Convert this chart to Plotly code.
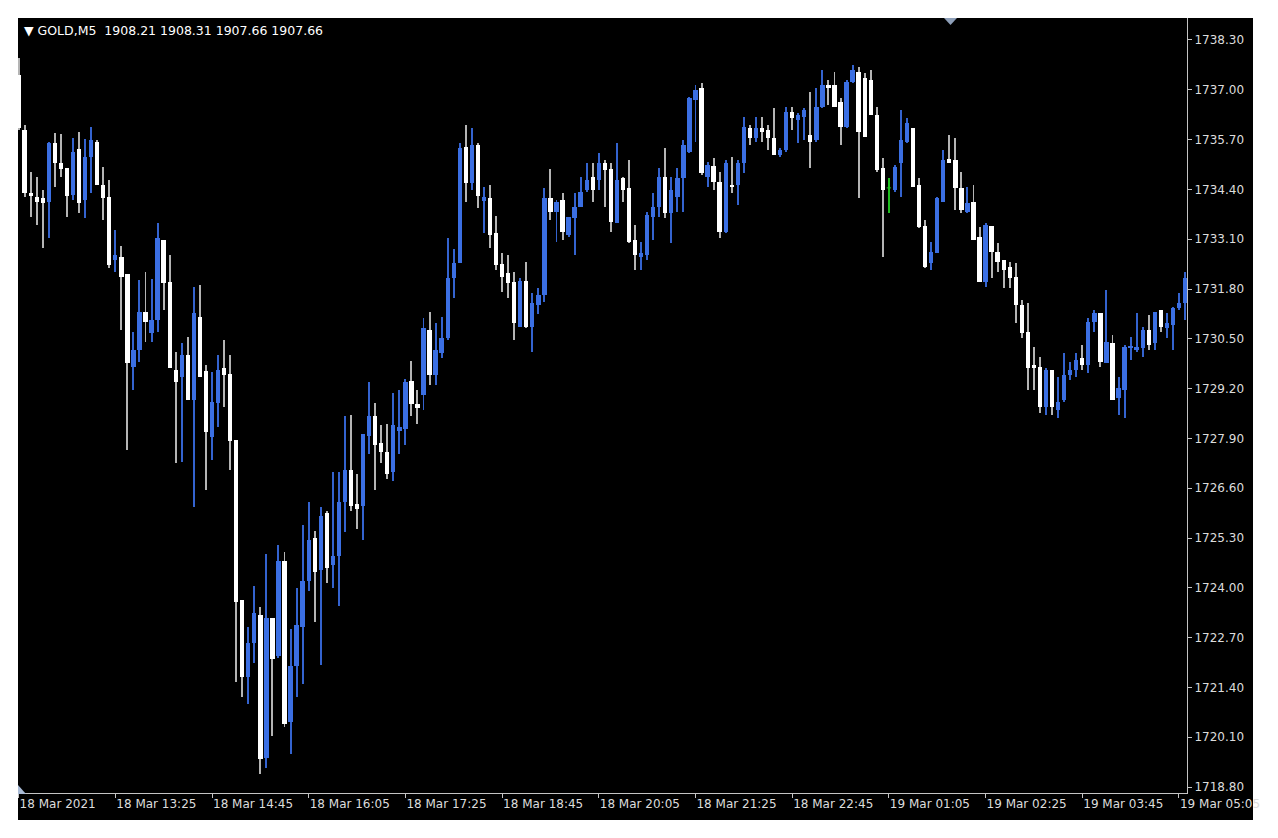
import plotly.graph_objects as go

# ---------------- data (GOLD, M5) ----------------
open_ = [1737.39,1735.95,1734.31,1734.20,1734.18,1734.07,1735.61,1735.09,1734.96,1734.25,
         1735.45,1734.12,1735.25,1735.64,1734.52,1734.20,1732.56,1732.64,1732.19,1729.76,
         1730.21,1731.20,1730.65,1730.99,1733.08,1731.98,1729.69,1729.50,1730.08,1728.90,
         1731.07,1729.66,1727.94,1728.82,1729.74,1729.58,1727.86,1723.68,1721.67,1722.56,
         1723.29,1719.56,1723.21,1722.22,1724.70,1720.50,1721.96,1722.98,1724.18,1725.30,
         1724.47,1725.95,1724.60,1724.83,1726.24,1727.08,1726.19,1726.14,1727.96,1728.49,
         1727.78,1727.55,1727.02,1728.09,1728.15,1729.40,1728.80,1729.03,1730.73,1729.56,
         1730.13,1730.52,1732.09,1732.48,1735.51,1734.57,1735.56,1734.10,1734.18,1733.26,
         1732.45,1732.22,1731.98,1730.81,1732.01,1730.81,1731.38,1731.64,1734.18,1733.81,
         1734.12,1733.21,1733.65,1733.94,1734.38,1734.72,1734.65,1735.09,1734.93,1733.52,
         1734.70,1734.44,1733.08,1732.64,1732.69,1733.68,1733.94,1734.72,1733.78,1734.20,
         1734.70,1735.38,1736.73,1737.05,1734.72,1735.01,1734.59,1733.29,1734.52,1734.52,
         1735.09,1736.00,1735.74,1736.00,1735.95,1735.74,1735.30,1735.43,1736.42,1736.21,
         1736.29,1735.82,1735.69,1736.55,1737.13,1737.13,1736.68,1736.03,1737.20,1737.46,
         1737.31,1737.26,1736.34,1734.96,1734.44,1734.38,1735.09,1735.64,1736.00,1734.52,
         1733.45,1732.48,1732.74,1734.07,1735.19,1735.17,1734.44,1733.81,1734.07,1733.16,
         1731.98,1733.45,1732.77,1732.56,1732.37,1732.11,1731.38,1730.68,1729.82,1729.76,
         1728.72,1729.69,1728.64,1728.90,1729.56,1729.69,1730.00,1729.82,1730.94,1731.17,
         1729.87,1730.39,1728.96,1729.16,1730.26,1730.21,1730.26,1730.73,1730.39,1731.25,
         1730.78,1730.86,1731.30,1731.43]
high = [1737.83,1736.08,1734.85,1734.72,1734.38,1735.64,1735.87,1735.85,1734.96,1735.74,
        1735.90,1735.72,1736.03,1735.69,1734.99,1734.65,1733.34,1732.92,1732.19,1730.68,
        1732.04,1732.24,1732.06,1733.52,1733.08,1732.69,1730.16,1730.39,1730.55,1731.85,
        1731.90,1729.82,1729.63,1730.08,1730.47,1730.08,1727.86,1723.68,1722.98,1724.05,
        1723.50,1724.88,1723.21,1725.12,1724.94,1722.93,1724.00,1725.64,1726.24,1725.48,
        1726.11,1726.01,1727.02,1727.02,1728.49,1728.51,1726.97,1728.02,1729.37,1728.82,
        1728.25,1728.28,1729.09,1729.16,1729.45,1729.92,1729.16,1731.04,1731.20,1730.91,
        1731.07,1733.13,1732.84,1735.61,1736.08,1736.00,1735.61,1734.46,1734.52,1733.71,
        1732.74,1732.69,1732.24,1732.09,1732.50,1731.70,1731.83,1734.44,1734.93,1734.12,
        1734.31,1733.68,1734.31,1734.72,1735.09,1735.09,1735.35,1735.17,1735.09,1735.61,
        1734.72,1735.17,1733.47,1733.03,1733.81,1734.31,1734.96,1735.48,1734.72,1734.96,
        1735.69,1736.81,1737.13,1737.18,1735.12,1735.22,1734.85,1735.17,1735.25,1735.17,
        1736.29,1736.08,1736.29,1736.29,1736.08,1736.52,1735.48,1736.55,1736.55,1736.39,
        1736.52,1736.94,1737.05,1737.52,1737.26,1737.46,1736.79,1737.26,1737.65,1737.60,
        1737.44,1737.52,1736.55,1735.22,1734.70,1735.04,1736.47,1736.26,1736.00,1734.70,
        1733.60,1733.03,1734.20,1735.43,1735.82,1735.74,1734.85,1734.46,1734.52,1733.42,
        1733.52,1733.45,1733.00,1732.56,1732.50,1732.48,1731.51,1731.43,1730.29,1730.03,
        1729.74,1729.69,1729.50,1730.13,1729.90,1730.13,1730.34,1731.04,1731.25,1731.17,
        1731.77,1730.60,1729.50,1730.34,1730.55,1731.17,1730.81,1731.12,1731.20,1731.25,
        1731.17,1731.33,1731.70,1732.24]
low = [1735.95,1734.20,1733.68,1733.47,1732.87,1733.13,1734.46,1734.72,1733.68,1734.12,
       1733.78,1733.65,1734.31,1734.52,1733.60,1732.35,1732.24,1730.73,1727.60,1729.16,
       1729.90,1730.42,1730.42,1730.68,1731.25,1729.74,1727.26,1727.28,1728.90,1726.11,
       1729.50,1726.55,1727.34,1728.20,1728.72,1727.08,1721.54,1721.15,1720.97,1722.04,
       1719.14,1719.30,1720.13,1722.17,1720.37,1719.66,1721.15,1721.49,1723.92,1723.11,
       1721.99,1724.13,1724.00,1723.53,1725.46,1726.01,1725.54,1725.25,1727.49,1726.55,
       1727.26,1726.84,1726.79,1727.49,1727.73,1728.49,1728.28,1728.64,1729.29,1729.29,
       1730.00,1730.47,1731.57,1732.48,1734.07,1734.38,1733.91,1733.26,1732.87,1732.30,
       1731.72,1731.57,1730.47,1730.81,1730.78,1730.16,1731.15,1731.46,1733.60,1733.03,
       1733.08,1733.16,1732.69,1733.94,1734.33,1734.07,1734.38,1733.94,1733.29,1733.52,
       1734.07,1733.00,1732.30,1732.30,1732.56,1733.08,1733.68,1733.65,1733.00,1733.81,
       1733.81,1735.35,1735.64,1734.78,1734.46,1734.38,1733.13,1733.26,1734.31,1733.99,
       1734.83,1735.56,1735.64,1735.64,1735.43,1735.30,1735.25,1735.38,1735.95,1735.61,
       1735.69,1734.96,1735.64,1736.52,1736.60,1736.55,1735.56,1736.00,1737.18,1734.18,
       1735.77,1736.34,1734.85,1732.64,1733.78,1734.33,1734.20,1735.61,1734.46,1733.39,
       1732.35,1732.30,1732.74,1734.07,1735.09,1733.86,1733.78,1733.78,1733.08,1731.98,
       1731.85,1732.09,1732.24,1731.83,1731.83,1730.91,1730.52,1729.16,1729.16,1728.56,
       1728.51,1728.51,1728.43,1728.85,1729.42,1729.50,1729.69,1729.61,1730.68,1729.76,
       1729.87,1728.90,1728.51,1728.43,1729.95,1730.16,1730.03,1730.21,1730.21,1730.68,
       1730.52,1730.21,1731.25,1730.99]
close = [1736.00,1734.31,1734.23,1734.07,1734.04,1735.61,1735.09,1734.93,1734.23,1735.38,
         1734.04,1735.25,1735.69,1734.52,1734.18,1732.43,1732.69,1732.11,1729.87,1730.21,
         1731.20,1730.94,1730.99,1733.13,1731.96,1729.74,1729.37,1730.08,1728.90,1731.17,
         1729.50,1728.07,1728.85,1729.69,1729.56,1727.83,1723.63,1721.67,1722.56,1723.34,
         1719.53,1723.21,1722.14,1724.70,1720.45,1721.96,1723.03,1724.18,1725.25,1724.41,
         1725.88,1724.52,1724.83,1726.24,1727.08,1726.14,1726.06,1728.02,1728.49,1727.73,
         1727.55,1726.97,1728.25,1728.20,1729.37,1728.80,1728.69,1730.78,1729.56,1730.21,
         1730.52,1732.09,1732.48,1735.48,1734.57,1735.56,1734.23,1734.20,1733.21,1732.43,
         1732.11,1731.96,1730.91,1732.01,1730.81,1731.43,1731.64,1734.18,1733.81,1734.07,
         1733.29,1733.68,1733.94,1734.33,1734.65,1734.38,1735.09,1734.91,1733.55,1734.65,
         1734.38,1733.03,1732.69,1732.74,1733.73,1733.94,1734.72,1733.78,1734.38,1734.70,
         1735.56,1736.79,1737.00,1734.83,1735.04,1734.59,1733.29,1735.09,1734.46,1735.09,
         1736.03,1735.74,1736.00,1735.90,1735.74,1735.30,1735.43,1736.42,1736.26,1736.34,
         1736.47,1735.64,1736.55,1737.13,1737.05,1736.55,1736.03,1737.20,1737.52,1735.90,
         1735.77,1736.34,1734.91,1734.38,1734.44,1734.99,1735.69,1736.13,1734.46,1733.42,
         1732.37,1732.77,1734.18,1735.17,1735.09,1734.44,1733.86,1734.04,1733.08,1731.98,
         1733.47,1732.77,1732.50,1732.30,1732.09,1731.38,1730.65,1729.74,1729.74,1728.72,
         1729.69,1728.72,1728.85,1729.56,1729.69,1729.95,1729.82,1730.94,1731.17,1729.90,
         1730.42,1728.90,1729.22,1730.29,1730.29,1730.29,1730.73,1730.34,1731.20,1730.81,
         1730.91,1731.30,1731.43,1732.09]

x_tick_bars = [0, 16, 32, 48, 64, 80, 96, 112, 128, 144, 160, 176, 192]
x_tick_labels = ["18 Mar 2021", "18 Mar 13:25", "18 Mar 14:45", "18 Mar 16:05",
                 "18 Mar 17:25", "18 Mar 18:45", "18 Mar 20:05", "18 Mar 21:25",
                 "18 Mar 22:45", "19 Mar 01:05", "19 Mar 02:25", "19 Mar 03:45",
                 "19 Mar 05:05"]
y_tick_values = [1718.80, 1720.10, 1721.40, 1722.70, 1724.00, 1725.30, 1726.60,
                 1727.90, 1729.20, 1730.50, 1731.80, 1733.10, 1734.40, 1735.70,
                 1737.00, 1738.30]
symbol_name = "GOLD,M5"
header_prices = ["1908.21", "1908.31", "1907.66", "1907.66"]

# ---------------- styling ----------------
BLUE = "#3b6fe3"
BLUE_WICK = "#3463cf"
WHITE = "#ffffff"
WHITE_WICK = "#b4b4b4"
GREEN = "#1fbf1f"
AXIS = "#c4c4c4"
TEXT = "#dcdcdc"
FONT = "DejaVu Sans"
BODY_W = 0.72
WICK_W = 0.16

# the page body adds an 8px offset; lay the figure out in screen pixels
OFF = 8
W, H = 1278 - OFF, 838 - OFF
PLOT_L, PLOT_R, PLOT_T, PLOT_B = 18, 1187, 18, 793          # screen pixels
ML, MT = PLOT_L - OFF, PLOT_T - OFF
MR, MB = W - (PLOT_R - OFF), H - (PLOT_B - OFF)
PW, PH = PLOT_R - PLOT_L, PLOT_B - PLOT_T

n = len(open_)
idx = list(range(n))
up = [i for i in idx if close[i] > open_[i]]
down = [i for i in idx if close[i] < open_[i]]
flat = [i for i in idx if close[i] == open_[i]]

fig = go.Figure()


def wick_trace(ids, color):
    return go.Bar(x=ids, y=[high[i] - low[i] for i in ids], base=[low[i] for i in ids],
                  width=WICK_W, marker=dict(color=color, line=dict(width=0)),
                  hoverinfo="skip", showlegend=False)


def body_trace(ids, color):
    return go.Bar(x=ids, y=[abs(close[i] - open_[i]) for i in ids],
                  base=[min(open_[i], close[i]) for i in ids],
                  width=BODY_W, marker=dict(color=color, line=dict(width=0)),
                  hoverinfo="skip", showlegend=False)


fig.add_trace(wick_trace(down, WHITE_WICK))
fig.add_trace(wick_trace(up, BLUE_WICK))
fig.add_trace(wick_trace(flat, GREEN))
fig.add_trace(body_trace(down, WHITE))
fig.add_trace(body_trace(up, BLUE))

fx, fy = [], []
for i in flat:
    fx += [i - BODY_W / 2, i + BODY_W / 2, None]
    fy += [open_[i], open_[i], None]
fig.add_trace(go.Scatter(x=fx, y=fy, mode="lines", line=dict(color=GREEN, width=1),
                         hoverinfo="skip", showlegend=False))


def px_x(p):
    return (p - PLOT_L) / PW


def px_y(p):
    return (PLOT_B - p) / PH


shapes = [
    # black terminal background
    dict(type="rect", xref="paper", yref="paper", x0=px_x(18), x1=px_x(1253),
         y0=px_y(820), y1=px_y(18), fillcolor="#000000", line=dict(width=0), layer="below"),
    # chart-shift marker (top)
    dict(type="path", xref="paper", yref="paper",
         path=f"M {px_x(944)} {px_y(18)} L {px_x(957)} {px_y(18)} L {px_x(950.5)} {px_y(25)} Z",
         fillcolor="#8e9fb8", line=dict(width=0), layer="above"),
    # corner marker (bottom-left)
    dict(type="path", xref="paper", yref="paper",
         path=f"M {px_x(18)} {px_y(785)} L {px_x(18)} {px_y(794)} L {px_x(26)} {px_y(794)} Z",
         fillcolor="#a9bbd6", line=dict(width=0), layer="above"),
]

fig.update_layout(
    width=W, height=H,
    margin=dict(l=ML, r=MR, t=MT, b=MB, pad=0),
    paper_bgcolor="#ffffff", plot_bgcolor="#000000",
    barmode="overlay", bargap=0,
    showlegend=False,
    shapes=shapes,
    font=dict(family=FONT, size=12, color=TEXT),
    annotations=[dict(
        xref="paper", yref="paper", x=px_x(22), y=px_y(30), xanchor="left", yanchor="middle",
        text="\u25bc " + symbol_name + "\u00a0\u00a0" + " ".join(header_prices),
        showarrow=False, font=dict(family=FONT, size=12.5, color="#ffffff"))],
)

fig.update_xaxes(
    range=[-0.1, n - 1 + 0.33], showgrid=False, zeroline=False,
    tickmode="array", tickvals=x_tick_bars, ticktext=x_tick_labels,
    ticks="outside", ticklen=4, tickwidth=1, tickcolor=AXIS,
    showline=True, linecolor=AXIS, linewidth=1,
    ticklabelposition="outside right",
    tickfont=dict(family=FONT, size=12, color=TEXT),
)
fig.update_yaxes(
    side="right", range=[1718.644, 1738.874], showgrid=False, zeroline=False,
    tickmode="array", tickvals=y_tick_values,
    ticktext=[f"{v:.2f}" for v in y_tick_values],
    ticks="outside", ticklen=4, tickwidth=1, tickcolor=AXIS,
    showline=True, linecolor=AXIS, linewidth=1,
    tickfont=dict(family=FONT, size=12, color=TEXT),
)

fig.write_html("out.html")
